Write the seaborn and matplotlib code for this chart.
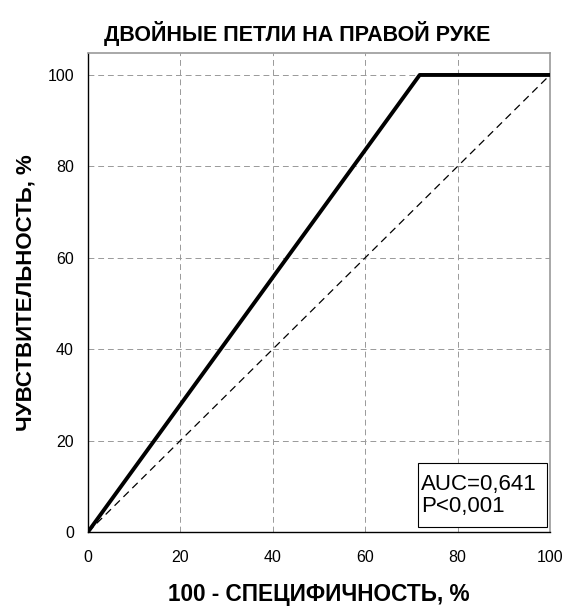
import pandas as pd
import matplotlib
matplotlib.use('Agg')
import matplotlib.pyplot as plt
import matplotlib.patches as mpatches
import seaborn as sns

# ── Data ──────────────────────────────────────────────────────────────────────

FPR: list[float] = [0, 71.8, 100]        # 100 - specificity, %
TPR: list[float] = [0, 100, 100]         # sensitivity, %
DIAG: list[float] = [0, 100]
TICKS: list[int] = [0, 20, 40, 60, 80, 100]
AUC_TEXT: str = 'AUC=0,641\nP<0,001'

# ── Plot ──────────────────────────────────────────────────────────────────────

sns.set_style('white', rc={
    'text.color': 'black',
    'axes.labelcolor': 'black',
    'xtick.color': 'black',
    'ytick.color': 'black',
})
plt.rcParams['font.family'] = ['Liberation Sans', 'DejaVu Sans']

fig = plt.figure(figsize=(5.67, 6.06), dpi=100)
ax = fig.add_axes([0.155, 0.122, 0.815, 0.7905])

df = pd.DataFrame({'fpr': FPR, 'tpr': TPR})
sns.lineplot(data=df, x='fpr', y='tpr', color='black', linewidth=2.8, ax=ax, zorder=4)
ax.plot(DIAG, DIAG, color='black', linestyle=(0, (6, 4)), linewidth=0.9, zorder=3)

ax.set_xlim(0, 100)
ax.set_ylim(0, 104.8)
ax.set_xticks(TICKS)
ax.set_yticks(TICKS)
ax.tick_params(axis='both', labelsize=11.5, length=8, direction='inout', width=0.8)
ax.tick_params(axis='x', pad=9)
ax.tick_params(axis='y', pad=6)

ax.grid(True, color='#999999', linestyle=(0, (6, 4)), linewidth=0.7)
ax.set_axisbelow(True)

for side in ('top', 'right'):
    ax.spines[side].set_color('#999999')
    ax.spines[side].set_linewidth(1.2)
for side in ('left', 'bottom'):
    ax.spines[side].set_color('black')
    ax.spines[side].set_linewidth(1.0)

ax.set_title('ДВОЙНЫЕ ПЕТЛИ НА ПРАВОЙ РУКЕ', fontsize=15.5, fontweight='bold', pad=9, x=0.452)
ax.set_xlabel('100 - СПЕЦИФИЧНОСТЬ, %', fontsize=16.3, fontweight='bold', labelpad=13)
ax.set_ylabel('ЧУВСТВИТЕЛЬНОСТЬ, %', fontsize=16, fontweight='bold', labelpad=8)

# AUC box
ax.add_patch(mpatches.Rectangle((0.714, 0.0104), 0.279, 0.1336, transform=ax.transAxes,
                                facecolor='white', edgecolor='black', linewidth=0.8, zorder=6))
ax.text(0.721, 0.077, AUC_TEXT, transform=ax.transAxes, fontsize=16,
        ha='left', va='center', linespacing=1.05, zorder=7)

fig.savefig('out.png', dpi=100)
